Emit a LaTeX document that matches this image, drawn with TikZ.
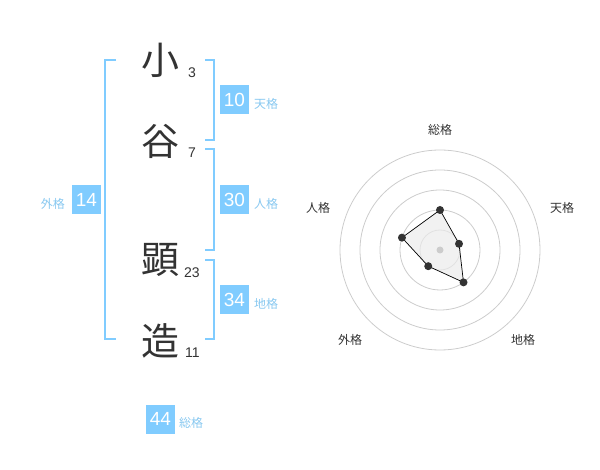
\documentclass[tikz,border=0pt]{standalone}
\usepackage{fontspec}
\setmainfont{Liberation Sans}
\newfontfamily\jpfont{Noto Sans CJK JP}
\definecolor{kakublue}{HTML}{80CCFF}
\definecolor{kakutext}{HTML}{88C8F0}
\definecolor{inkgray}{HTML}{333333}
\definecolor{ringgray}{HTML}{CCCCCC}
\tikzset{
  kanji/.style={font=\jpfont\fontsize{38}{38}\selectfont, text=inkgray, inner sep=0pt},
  strokes/.style={font=\fontsize{14}{14}\selectfont, text=inkgray, inner sep=0pt, anchor=base west},
  kakubox/.style={fill=kakublue, text=white, minimum size=29pt, inner sep=0pt, font=\fontsize{19}{19}\selectfont},
  kakuname/.style={font=\jpfont\fontsize{12}{12}\selectfont, text=kakutext, inner sep=0pt},
  bracket/.style={draw=kakublue, line width=2pt},
  ring/.style={draw=ringgray, line width=0.8pt},
  axisname/.style={font=\jpfont\fontsize{12}{12}\selectfont, text=inkgray, inner sep=0pt}
}
\begin{document}
\begin{tikzpicture}[x=1pt,y=-1pt]
      \useasboundingbox (0,0) rectangle (600,470);
      % name
      \node[kanji] (c1) at (160,60) {小};
      \node[kanji] (c2) at (160,141) {谷};
      \node[kanji] (c3) at (160,260) {顕};
      \node[kanji] (c4) at (160,341) {造};
      \node[strokes] (n1) at (188,78) {3};
      \node[strokes] (n2) at (188,158) {7};
      \node[strokes] (n3) at (184,278) {23};
      \node[strokes] (n4) at (185,358) {11};
      % brackets
      \draw[bracket] (116,60) -- (105,60) -- (105,339) -- (116,339);
      \draw[bracket] (205,60) -- (214,60) -- (214,140) -- (205,140);
      \draw[bracket] (205,149) -- (214,149) -- (214,250) -- (205,250);
      \draw[bracket] (205,260) -- (214,260) -- (214,339) -- (205,339);
      % scores
      \node[kakubox] (ten) at (234.5,100) {10};
      \node[kakubox] (jin) at (234.5,200) {30};
      \node[kakubox] (chi) at (234.5,300) {34};
      \node[kakubox] (gai) at (86.5,200) {14};
      \node[kakubox] (sou) at (160.5,419) {44};
      \node[kakuname, anchor=west] at (254,104) {天格};
      \node[kakuname, anchor=west] at (254,204) {人格};
      \node[kakuname, anchor=west] at (254,304) {地格};
      \node[kakuname, anchor=east] at (65,204) {外格};
      \node[kakuname, anchor=west] at (179,423) {総格};
      % radar
      \begin{scope}[shift={(440,250)},y=1pt]
        \draw[ring] (0,0) circle[radius=20];
        \draw[ring] (0,0) circle[radius=40];
        \draw[ring] (0,0) circle[radius=60];
        \draw[ring] (0,0) circle[radius=80];
        \draw[ring] (0,0) circle[radius=100];
        \coordinate (P) at (90:40);
        \coordinate (Q) at (18:20);
        \coordinate (R) at (-54:40);
        \coordinate (S) at (-126:20);
        \coordinate (T) at (162:40);
        \fill[black!8, fill opacity=0.7] (P) -- (Q) -- (R) -- (S) -- (T) -- cycle;
        \fill[ringgray] (0,0) circle[radius=3.5pt];
        \draw[black, line width=0.7pt] (P) -- (Q) -- (R) -- (S) -- (T) -- cycle;
        \fill[inkgray] (P) circle[radius=4pt];
        \fill[inkgray] (Q) circle[radius=4pt];
        \fill[inkgray] (R) circle[radius=4pt];
        \fill[inkgray] (S) circle[radius=4pt];
        \fill[inkgray] (T) circle[radius=4pt];
        \node[axisname] (a1) at (0,120) {総格};
        \node[axisname] (a2) at (122,42) {天格};
        \node[axisname] (a3) at (83,-90) {地格};
        \node[axisname] (a4) at (-90,-90) {外格};
        \node[axisname] (a5) at (-122,42) {人格};
      \end{scope}
    \end{tikzpicture}
\end{document}
